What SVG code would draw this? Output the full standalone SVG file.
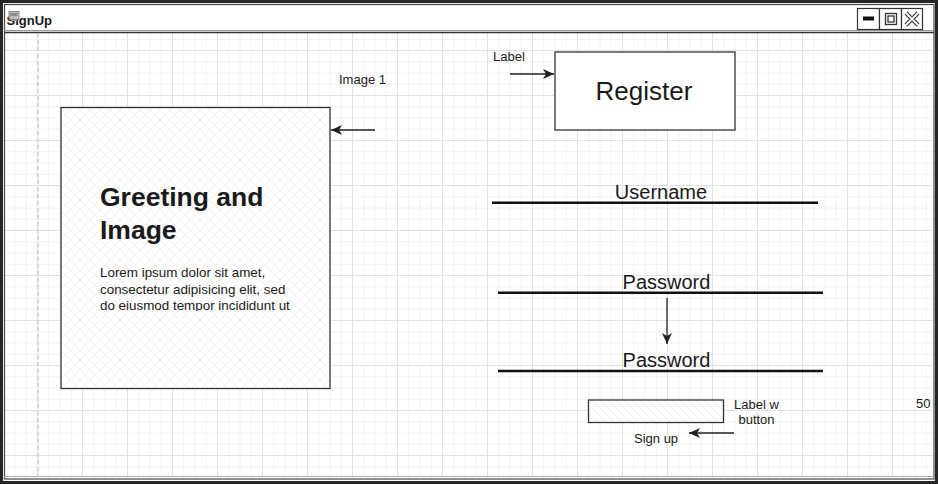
<svg xmlns="http://www.w3.org/2000/svg" width="938" height="484" viewBox="0 0 938 484">
<style>
.t{font-family:"Liberation Sans",Arial,sans-serif;fill:#1a1a1a}
.s13{font-size:13px}
.s20{font-size:20px}
.box{stroke:#333;stroke-width:1.3}
.under{stroke:#111;stroke-width:2.5}
.conn{stroke:#222;stroke-width:1.3;fill:none;marker-end:url(#arr)}
.wb{fill:#fff;stroke:#333;stroke-width:1.2}
</style>
<defs>
<pattern id="grid" patternUnits="userSpaceOnUse" x="37" y="5" width="45" height="45">
<path d="M11.75 0V45M23 0V45M34.25 0V45M0 11.75H45M0 23H45M0 34.25H45" stroke="#f2f2f2" stroke-width="1" fill="none"/>
<path d="M0.5 0V45M0 0.5H45" stroke="#e2e2e2" stroke-width="1" fill="none"/>
</pattern>
<pattern id="hatch" patternUnits="userSpaceOnUse" width="10" height="10">
<rect width="10" height="10" fill="#fff"/>
<path d="M0 0L10 10M10 0L0 10" stroke="#efefef" stroke-width="0.8"/>
</pattern>
<pattern id="diag" patternUnits="userSpaceOnUse" width="8" height="8">
<rect width="8" height="8" fill="#fff"/>
<path d="M0 0L8 8M-4 4L4 12M4 -4L12 4" stroke="#ececec" stroke-width="0.8"/>
</pattern>
<marker id="arr" markerUnits="userSpaceOnUse" markerWidth="12" markerHeight="10" viewBox="0 0 12 10" refX="11" refY="5" orient="auto">
<path d="M0 0L11 5L0 10L3 5Z" fill="#222"/>
</marker>
<clipPath id="loremClip"><rect x="95" y="262" width="230" height="49"/></clipPath>
</defs>

<g id="window">
<rect x="0" y="0" width="938" height="484" fill="#262626"/>
<rect x="3" y="3" width="932" height="478" fill="#fff"/>
<rect x="5" y="33" width="928" height="444" fill="url(#grid)"/>
<rect x="4.5" y="4.5" width="929.5" height="474.5" fill="none" stroke="#444" stroke-width="1.2"/>
<line x1="4" y1="30.5" x2="934" y2="30.5" stroke="#999" stroke-width="1"/>
<line x1="4" y1="32.5" x2="934" y2="32.5" stroke="#333" stroke-width="1.5"/>
<line x1="4" y1="476.5" x2="934" y2="476.5" stroke="#aaa" stroke-width="1"/>
<line x1="38" y1="33" x2="38" y2="477" stroke="#c8c8c8" stroke-width="1.3" stroke-dasharray="4 3"/>
<text class="t" x="6.5" y="25" font-size="13" font-weight="bold" fill="#000">SignUp</text>
<g id="window-icon">
<rect x="9" y="11.5" width="10" height="8" fill="#bbb" stroke="#777" stroke-width="0.8"/>
<rect x="10.5" y="13" width="7" height="3" fill="#888"/>
<rect x="11" y="19.5" width="6" height="1.5" fill="#999"/>
</g>
<g id="window-buttons">
<rect class="wb" x="857.5" y="8.5" width="22" height="21"/>
<rect class="wb" x="879.5" y="8.5" width="22" height="21"/>
<rect class="wb" x="901.5" y="8.5" width="21" height="21"/>
<rect x="863" y="16.5" width="11" height="4" fill="#111"/>
<rect x="885.5" y="13.5" width="11" height="11" fill="none" stroke="#333" stroke-width="1.3"/>
<rect x="888" y="16" width="6" height="6" fill="none" stroke="#333" stroke-width="1.3"/>
<path d="M906 13L918 25M918 13L906 25" stroke="#333" stroke-width="4.2"/>
<path d="M906 13L918 25M918 13L906 25" stroke="#fff" stroke-width="1.8"/>
</g>
</g>

<g id="image-box">
<rect class="box" x="61" y="107.5" width="269" height="281" fill="url(#hatch)"/>
<text class="t" x="100" y="206" font-size="26.5" font-weight="bold" fill="#000">Greeting and</text>
<text class="t" x="100" y="239" font-size="26.5" font-weight="bold" fill="#000">Image</text>
<g clip-path="url(#loremClip)">
<text class="t" x="100" y="277" font-size="13.4">Lorem ipsum dolor sit amet,</text>
<text class="t" x="100" y="293.5" font-size="13.4">consectetur adipisicing elit, sed</text>
<text class="t" x="100" y="310" font-size="13.4">do eiusmod tempor incididunt ut</text>
</g>
</g>

<g id="image-label"><text class="t s13" x="339" y="84">Image 1</text></g>
<g id="label-label"><text class="t s13" x="493" y="61">Label</text></g>

<g id="register">
<rect class="box" x="555" y="52" width="180" height="78" fill="#fff"/>
<text class="t" x="644" y="100" font-size="26" text-anchor="middle">Register</text>
</g>

<g id="username">
<text class="t s20" x="661" y="198.5" text-anchor="middle">Username</text>
<line class="under" x1="492" y1="202.7" x2="818" y2="202.7"/>
</g>

<g id="password1">
<text class="t s20" x="666.5" y="288.5" text-anchor="middle">Password</text>
<line class="under" x1="498" y1="292.7" x2="823" y2="292.7"/>
</g>

<g id="password2">
<text class="t s20" x="666.5" y="367" text-anchor="middle">Password</text>
<line class="under" x1="498" y1="371" x2="823" y2="371"/>
</g>

<g id="signup-button">
<rect class="box" x="588.5" y="400" width="135" height="22.5" fill="url(#diag)"/>
</g>

<g id="button-label">
<text class="t s13" x="756.5" y="408.5" text-anchor="middle">Label w</text>
<text class="t s13" x="756.5" y="423.5" text-anchor="middle">button</text>
</g>

<g id="signup-label"><text class="t s13" x="634" y="442.5">Sign up</text></g>

<g id="fifty"><text class="t s13" x="916" y="408">50</text></g>

<g id="connectors">
<path class="conn" d="M375 130H331"/>
<path class="conn" d="M510 74H554"/>
<path class="conn" d="M667 298V344"/>
<path class="conn" d="M734 433H689"/>
</g>
</svg>
